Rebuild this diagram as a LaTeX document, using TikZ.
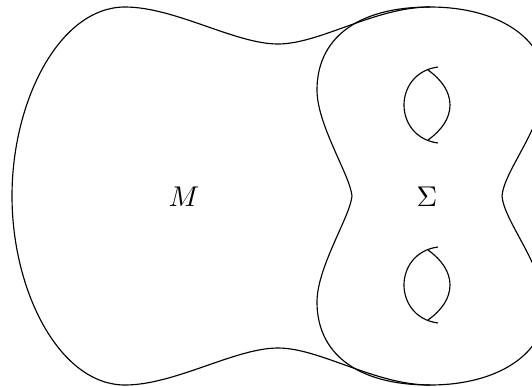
\documentclass[tikz,border=0pt]{standalone}
\begin{document}
\begin{tikzpicture}[x=0.35pt,y=-0.35pt,
  curve/.style={draw=black,line width=0.4pt},
  lbl/.style={inner sep=0pt}]
\useasboundingbox (0,0) rectangle (532,386);
\clip (0,0) rectangle (532,386);
% Sigma
\draw[curve] (430,7) .. controls (355,7) and (317,40) .. (317,90)
  .. controls (317,125) and (350,175) .. (352,196)
  .. controls (350,217) and (317,267) .. (317,302)
  .. controls (317,352) and (355,385) .. (430,385)
  .. controls (500,385) and (545,352) .. (545,310)
  .. controls (545,267) and (504,222) .. (502,196)
  .. controls (504,170) and (545,125) .. (545,82)
  .. controls (545,40) and (500,7) .. (430,7) -- cycle;
% M
\draw[curve] (430,7) .. controls (375,7) and (320,44) .. (278,44)
  .. controls (235,44) and (175,7) .. (125,7)
  .. controls (60,7) and (12,100) .. (12,196)
  .. controls (12,292) and (60,385) .. (125,385)
  .. controls (175,385) and (235,348) .. (278,348)
  .. controls (320,348) and (375,385) .. (430,385);
% handles
\foreach \yc in {105,285}{
  \draw[curve] (438,\yc-38) .. controls (415,\yc-35) and (404,\yc-17) .. (404,\yc)
    .. controls (404,\yc+17) and (415,\yc+35) .. (438,\yc+38);
  \draw[curve] (428,\yc-35) .. controls (442,\yc-25) and (450,\yc-13) .. (450,\yc)
    .. controls (450,\yc+13) and (442,\yc+25) .. (428,\yc+35);
}
\node[lbl] (M) at (184,197) {$M$};
\node[lbl] (S) at (427,197) {$\Sigma$};
\end{tikzpicture}
\end{document}
